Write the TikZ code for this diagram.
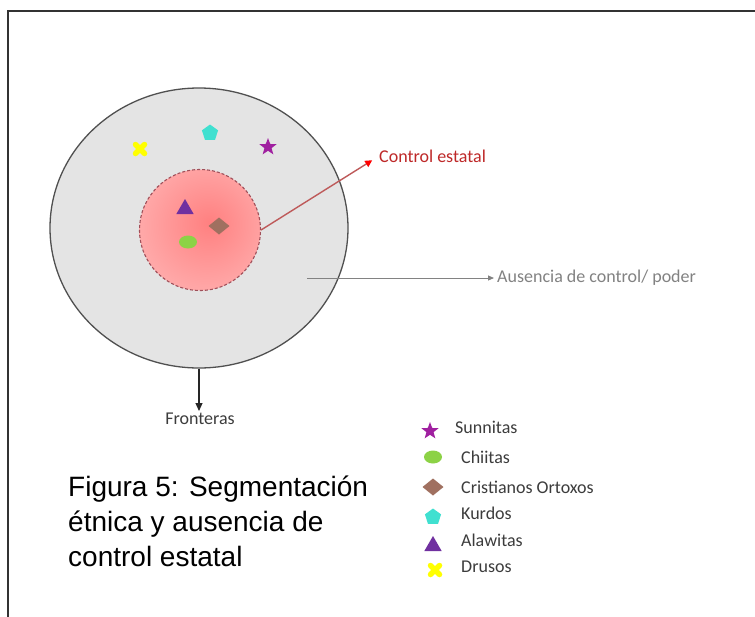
\documentclass[tikz,border=0pt]{standalone}
\usepackage{fontspec}
\setmainfont{Carlito}
\newfontfamily\capfont{Liberation Sans}
\usetikzlibrary{shapes.geometric,shapes.misc,arrows.meta}
\definecolor{ctrlin}{RGB}{255,128,128}
\definecolor{ctrlout}{RGB}{255,205,205}
\definecolor{outerfill}{RGB}{228,228,228}
\definecolor{outerline}{RGB}{80,80,80}
\definecolor{dashcol}{RGB}{160,80,90}
\definecolor{ctrlline}{RGB}{190,90,90}
\definecolor{ctrltext}{RGB}{190,40,40}
\definecolor{ausgray}{RGB}{130,130,130}
\definecolor{lbltext}{RGB}{60,60,60}
\definecolor{sunni}{RGB}{160,32,160}
\definecolor{chii}{RGB}{140,210,70}
\definecolor{crist}{RGB}{160,112,96}
\definecolor{kurd}{RGB}{64,224,208}
\definecolor{alaw}{RGB}{112,48,160}
\definecolor{druso}{RGB}{255,255,0}
\pgfdeclareradialshading{ctrlshade}{\pgfpoint{4bp}{3bp}}{color(0bp)=(ctrlin);color(52bp)=(ctrlout);color(70bp)=(ctrlout)}
\tikzset{
  lbl/.style={inner sep=0pt, font=\fontsize{18}{21}\selectfont, text=lbltext},
  caplbl/.style={inner sep=0pt, anchor=base west, font=\capfont\fontsize{28}{35}\selectfont, text=black},
  sym/.style={inner sep=0pt, outer sep=0pt},
  sstar/.style={sym, star, star points=5, star point ratio=2.4, fill=sunni, minimum size=18pt},
  sell/.style={sym, ellipse, fill=chii, minimum width=18pt, minimum height=13pt},
  sdia/.style={sym, diamond, fill=crist, minimum width=21pt, minimum height=17pt},
  spent/.style={sym, regular polygon, regular polygon sides=5, fill=kurd, minimum size=17pt},
  stri/.style={sym, regular polygon, regular polygon sides=3, fill=alaw, minimum size=20pt},
  sx/.style={sym, cross out, draw=druso, line width=5.5pt, line cap=round, minimum size=9pt},
}
\begin{document}
\begin{tikzpicture}[x=1pt,y=-1pt]
\fill[white] (0,0) rectangle (755,616);
\useasboundingbox (0,0) rectangle (755,616);
% frame
\draw[line width=2pt, black!80] (8,617) -- (8,11) -- (756,11);
% outer region
\node[ellipse, draw=outerline, fill=outerfill, line width=1.3pt, minimum width=298pt, minimum height=280pt, inner sep=0pt] (outer) at (199,228) {};
% controlled core
\node[circle, shading=ctrlshade, draw=dashcol, dashed, dash pattern=on 3pt off 2pt, line width=1.1pt, minimum size=121pt, inner sep=0pt] (inner) at (200,230) {};
% symbols in circle
\node[sx] (cx) at (140,149) {};
\node[spent] (cpent) at (210,133) {};
\node[sstar] (cstar) at (268,147) {};
\node[stri] (ctri) at (185,209) {};
\node[sdia] (cdia) at (219,226) {};
\node[sell] (cell) at (188,242) {};
% labels and connectors
\node[lbl, anchor=west, text=ctrltext] (ctrl) at (379,156) {Control estatal};
\draw[ctrlline, line width=1.4pt, shorten >=8pt, -{Triangle[length=7pt,width=7pt,fill=red,color=red]}] (inner.east) -- (ctrl.west);
\coordinate (ausstart) at (307,278);
\node[lbl, anchor=west, text=ausgray] (aus) at (497,278) {Ausencia de control/ poder};
\draw[ausgray, line width=0.9pt, shorten >=3pt, -{Triangle[length=6pt,width=5pt]}] (ausstart) -- (aus.west);
\node[lbl, anchor=north] (fron) at (200,413) {Fronteras};
\draw[black!85, line width=1.1pt, shorten >=2pt, -{Triangle[length=8pt,width=7pt]}] (outer.south) -- (outer.south |- fron.north);
% legend
\node[sstar] (lstar) at (430,431) {};
\node[lbl, anchor=west] (tstar) at (455,427) {Sunnitas};
\node[sell] (lell) at (433,457) {};
\node[lbl, anchor=west] (tell) at (461,457) {Chiitas};
\node[sdia] (ldia) at (433,487) {};
\node[lbl, anchor=west] (tdia) at (461,487) {Cristianos Ortoxos};
\node[spent] (lpent) at (433,517) {};
\node[lbl, anchor=west] (tpent) at (461,513) {Kurdos};
\node[stri] (ltri) at (433,546) {};
\node[lbl, anchor=west] (ttri) at (461,540) {Alawitas};
\node[sx] (lx) at (435,570) {};
\node[lbl, anchor=west] (tx) at (461,567) {Drusos};
% caption
\node[caplbl] (cap1) at (68,496) {Figura 5: Segmentación};
\node[caplbl] (cap2) at (68,531) {étnica y ausencia de};
\node[caplbl] (cap3) at (68,566) {control estatal};
\end{tikzpicture}
\end{document}
